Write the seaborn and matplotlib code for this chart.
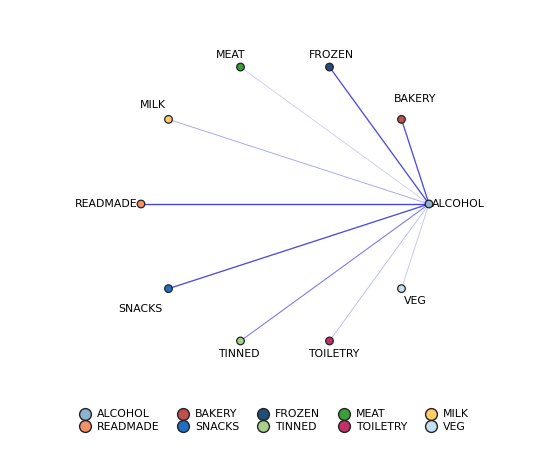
import numpy as np
import pandas as pd
import seaborn as sns
import matplotlib.pyplot as plt
from matplotlib.lines import Line2D

# data
nodes = ["ALCOHOL", "BAKERY", "FROZEN", "MEAT", "MILK",
         "READMADE", "SNACKS", "TINNED", "TOILETRY", "VEG"]
colors = ["#8db3d3", "#c0504d", "#1f4e79", "#3a9e3a", "#ffcc66",
          "#f0916a", "#1f6fc4", "#a8d08d", "#c2306a", "#c5e0f4"]
# edges from ALCOHOL to others, strength 0..1
edge_to = ["BAKERY", "FROZEN", "MEAT", "MILK", "READMADE",
           "SNACKS", "TINNED", "TOILETRY", "VEG"]
edge_w = [0.9, 0.9, 0.15, 0.35, 0.95, 0.9, 0.6, 0.25, 0.2]

# layout on circle
cx, cy, r = 285, 204, 144
ang = np.deg2rad(np.arange(len(nodes)) * 36)
df = pd.DataFrame({"node": nodes,
                   "x": cx + r * np.cos(ang),
                   "y": cy - r * np.sin(ang)})
pos = df.set_index("node")

fig = plt.figure(figsize=(5.54, 4.58), dpi=100)
ax = fig.add_axes([0, 0, 1, 1])
ax.set_xlim(0, 554)
ax.set_ylim(458, 0)
ax.axis("off")

for t, w in zip(edge_to, edge_w):
    ax.plot([pos.loc["ALCOHOL", "x"], pos.loc[t, "x"]],
            [pos.loc["ALCOHOL", "y"], pos.loc[t, "y"]],
            color="#0000dd", alpha=0.12 + 0.65 * w, lw=0.5 + 0.5 * w, zorder=1)

sns.scatterplot(data=df, x="x", y="y", hue="node", palette=colors,
                s=30, edgecolor="#222222", linewidth=0.9, ax=ax,
                legend=False, zorder=3)

offs = {"ALCOHOL": (3, 0, "left", "center"), "BAKERY": (14, -20, "center", "center"),
        "FROZEN": (2, -12, "center", "center"), "MEAT": (-10, -12, "center", "center"),
        "MILK": (-16, -14, "center", "center"), "READMADE": (-4, 0, "right", "center"),
        "SNACKS": (-28, 20, "center", "center"), "TINNED": (-2, 13, "center", "center"),
        "TOILETRY": (4, 13, "center", "center"), "VEG": (14, 12, "center", "center")}
for n, (dx, dy, ha, va) in offs.items():
    ax.text(pos.loc[n, "x"] + dx, pos.loc[n, "y"] + dy, n, ha=ha, va=va,
            fontsize=7.8, family="DejaVu Sans")

handles = [Line2D([], [], marker="o", ls="", markersize=8.5, markerfacecolor=c,
                  markeredgecolor="#222222", label=n) for n, c in zip(nodes, colors)]
order = [0, 5, 1, 6, 2, 7, 3, 8, 4, 9]
fig.legend([handles[i] for i in order], [nodes[i] for i in order], ncol=5,
           loc="center", bbox_to_anchor=(0.49, 0.082), frameon=False,
           fontsize=7.8, handletextpad=0.1, columnspacing=1.2, labelspacing=0.2)

fig.savefig("out.png", dpi=100)
